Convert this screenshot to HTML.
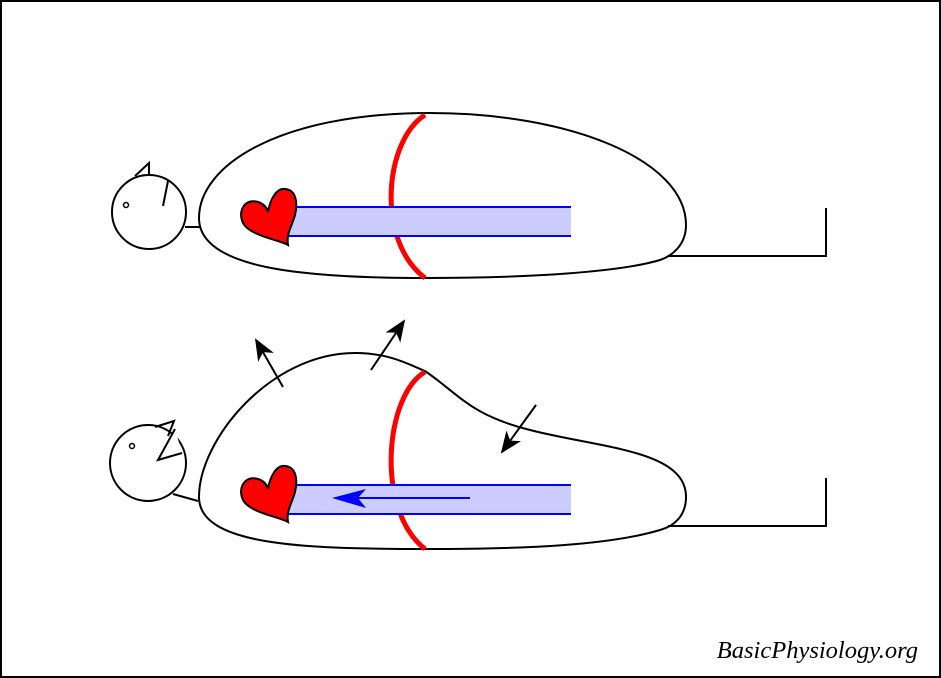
<!DOCTYPE html>
<html><head><style>
html,body{margin:0;padding:0;background:#fff;}
svg{display:block;}
</style></head><body>
<svg width="941" height="678" viewBox="0 0 941 678" xmlns="http://www.w3.org/2000/svg">
<defs>
<marker id="ah" viewBox="0 0 22 18" refX="20" refY="9" markerWidth="22" markerHeight="18" orient="auto" markerUnits="userSpaceOnUse">
<path d="M0,0 L22,9 L0,18 L6,9 z" fill="#000"/></marker>
<path id="heart" d="M48,57 C40,52 10,48 3,35 C-3,22 6,10 18,14 C24,16 27,20 28,24 C30,12 36,0 45,1 C56,2 58,14 55,27 C52,38 46,46 48,57 z"/>
</defs>
<rect x="1" y="1" width="939" height="676" fill="#fff" stroke="#000" stroke-width="2"/>

<!-- TOP FIGURE -->
<circle cx="149" cy="212" r="37" fill="none" stroke="#000" stroke-width="2"/>
<polyline points="135,176 149,163 149,176" fill="none" stroke="#000" stroke-width="2"/>
<line x1="168" y1="181" x2="163" y2="206" stroke="#000" stroke-width="2"/>
<circle cx="126" cy="205" r="2.5" fill="none" stroke="#000" stroke-width="1.5"/>
<line x1="185" y1="227" x2="200" y2="227" stroke="#000" stroke-width="2"/>
<path d="M199,218 C199,165 280,113 430,113 C570,113 686,160 686,225 C686,245 672,256 660,260 C620,272 530,278 425,278 C300,278 199,268 199,218 z" fill="#fff" stroke="#000" stroke-width="2"/>
<path d="M668,256 L826,256 L826,208" fill="none" stroke="#000" stroke-width="2"/>
<path d="M425,115 C385,140 375,240 425,278" fill="none" stroke="#f00" stroke-width="5"/>
<rect x="288" y="207" width="283" height="29" fill="#ccccff"/>
<line x1="288" y1="207" x2="571" y2="207" stroke="#00f" stroke-width="2"/>
<line x1="288" y1="236" x2="571" y2="236" stroke="#00f" stroke-width="2"/>
<use href="#heart" x="240" y="188" fill="#f00" stroke="#000" stroke-width="2"/>

<!-- BOTTOM FIGURE -->
<circle cx="148" cy="463" r="38" fill="none" stroke="#000" stroke-width="2"/>
<polyline points="155,427 174,421 168,436" fill="none" stroke="#000" stroke-width="2"/>
<polyline points="175,429 158,460 182,453" fill="#fff" stroke="#000" stroke-width="2"/>
<circle cx="132" cy="446" r="2.5" fill="none" stroke="#000" stroke-width="1.5"/>
<line x1="173" y1="494" x2="198" y2="501" stroke="#000" stroke-width="2"/>
<path d="M199,497 C199,440 270,353 355,353 C390,353 410,365 425,371 C460,395 470,415 530,430 C600,448 686,450 686,497 C686,515 675,526 660,530 C610,545 530,549 425,549 C300,549 199,545 199,497 z" fill="#fff" stroke="#000" stroke-width="2"/>
<path d="M668,526 L826,526 L826,478" fill="none" stroke="#000" stroke-width="2"/>
<path d="M425,372 C385,395 375,510 425,549" fill="none" stroke="#f00" stroke-width="5"/>
<rect x="288" y="485" width="283" height="29" fill="#ccccff"/>
<line x1="288" y1="485" x2="571" y2="485" stroke="#00f" stroke-width="2"/>
<line x1="288" y1="514" x2="571" y2="514" stroke="#00f" stroke-width="2"/>
<line x1="470" y1="498" x2="345" y2="498" stroke="#00f" stroke-width="2"/>
<path d="M332,498 L366,489 L358,498 L366,508 z" fill="#00f"/>
<use href="#heart" x="240" y="465" fill="#f00" stroke="#000" stroke-width="2"/>

<line x1="283" y1="387" x2="256" y2="340" stroke="#000" stroke-width="2" marker-end="url(#ah)"/>
<line x1="371" y1="370" x2="404" y2="321" stroke="#000" stroke-width="2" marker-end="url(#ah)"/>
<line x1="536" y1="405" x2="502" y2="452" stroke="#000" stroke-width="2" marker-end="url(#ah)"/>

<text x="918" y="658" text-anchor="end" font-family="'Liberation Serif',serif" font-style="italic" font-size="24.5">BasicPhysiology.org</text>
</svg>
</body></html>
